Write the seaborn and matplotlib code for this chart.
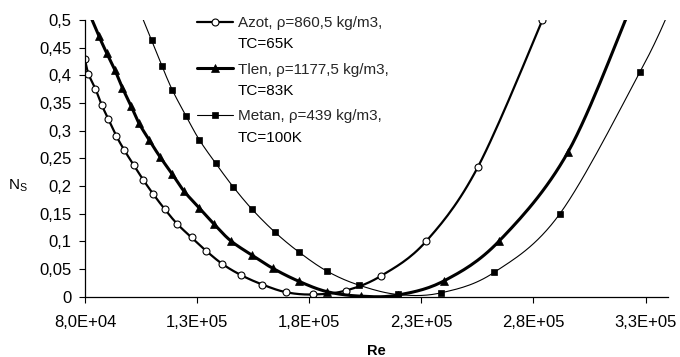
import matplotlib
matplotlib.use("Agg")
import matplotlib.pyplot as plt
from matplotlib.lines import Line2D
from matplotlib.ticker import FixedLocator, FixedFormatter
import numpy as np
import pandas as pd
import seaborn as sns

# Azot (open circles)
azot_re = [80000, 81500, 84600, 87400, 90400, 93900, 97500, 101700, 106000, 110500,
           115600, 121000, 127500, 134000, 141300, 149600, 159100, 169800, 181800,
           196200, 212200, 232100, 255300, 284000, 284800]
azot_ns = [0.429, 0.403, 0.376, 0.347, 0.321, 0.291, 0.265, 0.238, 0.211, 0.185,
           0.158, 0.132, 0.107, 0.083, 0.059, 0.039, 0.022, 0.008, 0.004,
           0.011, 0.038, 0.100, 0.235, 0.500, 0.515]

# Tlen (triangles)
tlen_re = [80000, 86200, 89700, 93400, 96600, 100500, 104000, 108500, 113400, 119000,
           124100, 130800, 137600, 145000, 154500, 163900, 175300, 188000, 202900,
           219500, 240300, 264800, 295500, 324000]
tlen_ns = [0.530, 0.471, 0.440, 0.409, 0.378, 0.345, 0.314, 0.284, 0.253, 0.221,
           0.191, 0.161, 0.131, 0.101, 0.075, 0.051, 0.028, 0.009, 0.001,
           0.003, 0.029, 0.101, 0.262, 0.530]

# Metan (squares)
metan_re = [104000, 109700, 114400, 119000, 125000, 130900, 138300, 146000, 154500,
            164600, 175300, 188000, 202100, 219500, 238800, 262500, 291800, 327500, 341000]
metan_ns = [0.520, 0.463, 0.416, 0.373, 0.327, 0.284, 0.241, 0.199, 0.158,
            0.117, 0.081, 0.046, 0.021, 0.004, 0.007, 0.044, 0.150, 0.406, 0.520]

labels = ["Azot, ρ=860,5 kg/m3,", "Tlen, ρ=1177,5 kg/m3,", "Metan, ρ=439 kg/m3,"]
labels_2 = ["TC=65K", "TC=83K", "TC=100K"]

x_ticks = [80000, 130000, 180000, 230000, 280000, 330000]
x_labels = ["8,0E+04", "1,3E+05", "1,8E+05", "2,3E+05", "2,8E+05", "3,3E+05"]
y_ticks = [0, 0.05, 0.1, 0.15, 0.2, 0.25, 0.3, 0.35, 0.4, 0.45, 0.5]
y_labels = ["0", "0,05", "0,1", "0,15", "0,2", "0,25", "0,3", "0,35", "0,4", "0,45", "0,5"]


def smooth(xs, ys, steps=16):
    # Excel-like smoothed line (Catmull-Rom through the points)
    p = np.column_stack([xs, ys]).astype(float)
    p = np.vstack([p[0], p, p[-1]])
    out = []
    t = np.linspace(0, 1, steps, endpoint=False)[:, None]
    for i in range(1, len(p) - 2):
        p0, p1, p2, p3 = p[i - 1], p[i], p[i + 1], p[i + 2]
        seg = 0.5 * ((2 * p1) + (-p0 + p2) * t + (2 * p0 - 5 * p1 + 4 * p2 - p3) * t ** 2
                     + (-p0 + 3 * p1 - 3 * p2 + p3) * t ** 3)
        out.append(seg)
    out.append(p[-2][None, :])
    out = np.vstack(out)
    return out[:, 0], out[:, 1]


sns.set_theme(style="ticks")
plt.rcParams["font.family"] = ["Liberation Sans", "DejaVu Sans"]
plt.rcParams["mathtext.fontset"] = "custom"
plt.rcParams["mathtext.rm"] = "Liberation Sans"

W, H = 680, 357
fig = plt.figure(figsize=(W / 100, H / 100), dpi=100)
ax = fig.add_axes([85 / W, 1 - 296.7 / H, 583 / W, 276.7 / H])

styles = [
    dict(marker="o", lw=1.6, ms=5, mfc="white", mew=0.8),
    dict(marker="^", lw=2.2, ms=6, mfc="black", mew=0.5),
    dict(marker="s", lw=0.8, ms=4.5, mfc="black", mew=0.5),
]
series = [(azot_re, azot_ns), (tlen_re, tlen_ns), (metan_re, metan_ns)]
handles = []
for (xs, ys), st in zip(series, styles):
    sx, sy = smooth(xs, ys)
    curve = pd.DataFrame({"Re": sx, "Ns": sy})
    pts = pd.DataFrame({"Re": xs, "Ns": ys})
    sns.lineplot(data=curve, x="Re", y="Ns", ax=ax, sort=False, estimator=None,
                 color="black", linewidth=st["lw"])
    sns.lineplot(data=pts, x="Re", y="Ns", ax=ax, sort=False, estimator=None,
                 color="black", linestyle="", marker=st["marker"], markersize=st["ms"],
                 markerfacecolor=st["mfc"], markeredgecolor="black",
                 markeredgewidth=st["mew"])
    handles.append(Line2D([], [], color="black", lw=st["lw"], marker=st["marker"],
                          markersize=st["ms"], markerfacecolor=st["mfc"],
                          markeredgecolor="black", markeredgewidth=st["mew"]))

ax.set_xlim(80000, 340000)
ax.set_ylim(0, 0.5)
ax.xaxis.set_major_locator(FixedLocator(x_ticks))
ax.xaxis.set_major_formatter(FixedFormatter(x_labels))
ax.yaxis.set_major_locator(FixedLocator(y_ticks))
ax.yaxis.set_major_formatter(FixedFormatter(y_labels))
ax.tick_params(axis="both", direction="out", length=4.5, width=0.8, color="black",
               labelsize=12, labelcolor="black")
ax.tick_params(axis="x", pad=8.5)
ax.tick_params(axis="y", pad=5)
for s in ["top", "right"]:
    ax.spines[s].set_visible(False)
for s in ["left", "bottom"]:
    ax.spines[s].set_color("black")
    ax.spines[s].set_linewidth(0.9)

ax.set_xlabel("Re", fontsize=10.5, fontweight="bold", color="black")
ax.xaxis.set_label_coords(0.5, -0.196)
ax.xaxis.label.set_va("center")
ax.set_ylabel(r"N$_\mathregular{S}$", fontsize=11, rotation=0, color="black")
ax.yaxis.set_label_coords(-0.115, 0.40)
ax.yaxis.label.set_va("center")
ax.yaxis.label.set_ha("center")

leg = ax.legend(handles, labels, loc="upper left",
                bbox_to_anchor=(197 / W, 1 - 16 / H),
                bbox_transform=fig.transFigure, frameon=False, fontsize=11,
                handlelength=2.35, handletextpad=0.33, borderpad=0, borderaxespad=0,
                labelspacing=2.13)

# second line of each legend entry, placed under the first one
fig.canvas.draw()
for t, extra in zip(leg.get_texts(), labels_2):
    bb = t.get_window_extent()
    yc = (bb.y0 + bb.y1) / 2 - 21.5
    fig.text(bb.x0 / W, yc / H, extra, fontsize=11, color="black", ha="left", va="center")

fig.savefig("out.png", dpi=100)
